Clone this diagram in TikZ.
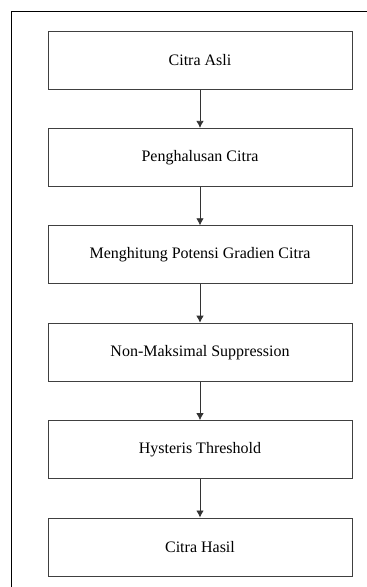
\documentclass[tikz,border=0pt]{standalone}
\usepackage{fontspec}
\setmainfont{Liberation Serif}
\usetikzlibrary{positioning, arrows.meta}

\begin{document}
\begin{tikzpicture}[x=1pt, y=1pt,
  box/.style={draw=black!75, line width=1pt, minimum width=304pt, minimum height=58pt,
    inner sep=0pt, font=\fontsize{16}{19}\selectfont},
  arr/.style={-{Latex[length=7pt, width=7.5pt]}, line width=0.8pt, draw=black!80},
  node distance=38.4pt]
\useasboundingbox (0,0) rectangle (367,-587);
% outer frame (runs off the right and bottom edges)
\draw[line width=0.9pt] (11,-600) -- (11,-11) -- (380,-11);
\node[box] (asli) at (200,-60) {Citra Asli};
\node[box, below=of asli] (halus) {Penghalusan Citra};
\node[box, below=of halus] (gradien) {Menghitung Potensi Gradien Citra};
\node[box, below=of gradien] (nms) {Non-Maksimal Suppression};
\node[box, below=of nms] (hyst) {Hysteris Threshold};
\node[box, below=of hyst] (hasil) {Citra Hasil};
\draw[arr] (asli) -- (halus);
\draw[arr] (halus) -- (gradien);
\draw[arr] (gradien) -- (nms);
\draw[arr] (nms) -- (hyst);
\draw[arr] (hyst) -- (hasil);
\end{tikzpicture}
\end{document}
